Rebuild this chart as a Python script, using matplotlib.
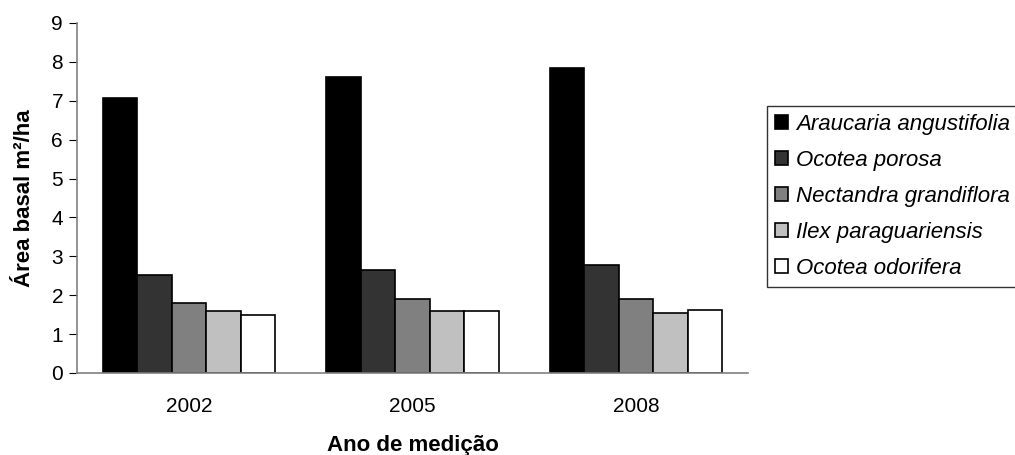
import numpy as np
import matplotlib.pyplot as plt

plt.rcParams['font.family'] = ['Liberation Sans', 'DejaVu Sans']

anos = ['2002', '2005', '2008']
especies = ['Araucaria angustifolia', 'Ocotea porosa', 'Nectandra grandiflora',
            'Ilex paraguariensis', 'Ocotea odorifera']
araucaria = [7.07, 7.61, 7.83]
ocotea_porosa = [2.51, 2.66, 2.79]
nectandra = [1.80, 1.90, 1.90]
ilex = [1.59, 1.59, 1.54]
ocotea_odorifera = [1.50, 1.59, 1.62]
valores = [araucaria, ocotea_porosa, nectandra, ilex, ocotea_odorifera]
cores = ['#000000', '#333333', '#808080', '#c0c0c0', '#ffffff']

fig = plt.figure(figsize=(10.15, 4.55), dpi=100)
ax = fig.add_axes([77/1015, 82/455, 671/1015, 350/455])

x = np.arange(len(anos))
w = 0.154
for i, (nome, vals, cor) in enumerate(zip(especies, valores, cores)):
    ax.bar(x + (i - 2) * w, vals, w, color=cor, edgecolor='black', linewidth=1.2, label=nome)

ax.set_xlim(-0.5, 2.5)
ax.set_ylim(0, 9)
ax.set_yticks(range(10))
ax.set_xticks(x)
ax.set_xticklabels(anos, fontsize=15)
ax.tick_params(axis='y', labelsize=15, direction='out', length=6, color='black', pad=4)
ax.tick_params(axis='x', length=0, pad=17)
for s in ['top', 'right']:
    ax.spines[s].set_visible(False)
for s in ['left', 'bottom']:
    ax.spines[s].set_color('#808080')
    ax.spines[s].set_linewidth(1.2)

ax.set_ylabel('Área basal m²/ha', fontsize=16, fontweight='bold', labelpad=12)
ax.set_xlabel('Ano de medição', fontsize=16, fontweight='bold', labelpad=14)

leg = ax.legend(loc='upper left', bbox_to_anchor=(767/1015, 349/455), bbox_transform=fig.transFigure,
                prop={'style': 'italic', 'size': 16}, frameon=True, fancybox=False,
                handlelength=0.6, handleheight=0.6, handletextpad=0.35, labelspacing=0.68,
                borderpad=0.35, borderaxespad=0)
leg.get_frame().set_edgecolor('black')
leg.get_frame().set_linewidth(1.0)

fig.savefig('out.png', dpi=100)
